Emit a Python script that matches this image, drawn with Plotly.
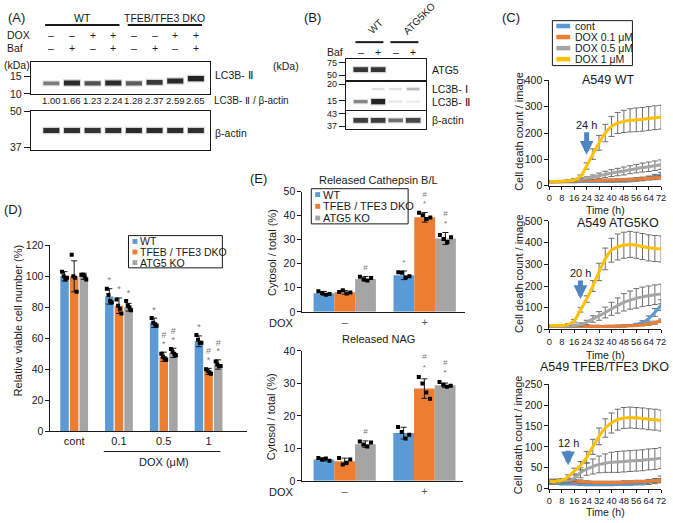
import plotly.graph_objects as go
import math

W, H = 673, 523
FONT = "Liberation Sans, Arial, Helvetica, sans-serif"
INK = "#1a1a1a"

def fx(x):
    return x / W

def fy(y):
    return 1 - y / H

# ====================== DATA ======================
# (A) western blot
A_group_names = ["WT", "TFEB/TFE3 DKO"]
A_lanes = [1, 2, 3, 4, 5, 6, 7, 8]
A_dox = ["–", "–", "+", "+", "–", "–", "+", "+"]
A_baf = ["–", "+", "–", "+", "–", "+", "–", "+"]
A_lc3ii_band = [0.55, 0.95, 0.75, 0.95, 0.70, 0.88, 0.95, 1.00]
A_lc3ii_kda = [12.8, 12.9, 12.8, 12.9, 12.8, 13.1, 13.5, 14.3]
A_actin_band = [0.92, 0.92, 0.90, 0.92, 0.95, 0.95, 0.93, 0.92]
A_actin_kda = [42.5, 42.5, 42.5, 42.5, 42.5, 42.5, 42.5, 42.5]
A_ratio = [1.00, 1.66, 1.23, 2.24, 1.28, 2.37, 2.59, 2.65]
A_lc3_markers = [15, 10]
A_actin_markers = [50, 37]

# (B) western blot
B_group_names = ["WT", "ATG5KO"]
B_lanes = [1, 2, 3, 4]
B_baf = ["–", "+", "–", "+"]
B_atg5_band = [0.90, 0.90, 0.0, 0.0]
B_atg5_kda = [60, 60, 60, 60]
B_lc3i_band = [0.0, 0.12, 0.12, 0.28]
B_lc3i_kda = [18.4, 18.4, 18.4, 18.4]
B_lc3ii_band = [0.50, 1.00, 0.10, 0.08]
B_lc3ii_kda = [14.8, 14.8, 14.8, 14.8]
B_actin_band = [0.85, 0.85, 0.60, 0.80]
B_actin_kda = [39.6, 39.6, 39.6, 39.6]
B_atg5_markers = [75, 50]
B_lc3_markers = [20, 15]
B_actin_markers = [43, 37]

# (C) cell death time course
C_series = ["cont", "DOX 0.1 μM", "DOX 0.5 μM", "DOX 1 μM"]
C_time = [0, 4, 8, 12, 16, 20, 24, 28, 32, 36, 40, 44, 48, 52, 56, 60, 64, 68, 72]
C_titles = ["A549 WT", "A549 ATG5KO", "A549 TFEB/TFE3 DKO"]
C_arrow_time = [24, 20, 12]
C_arrow_label = ["24 h", "20 h", "12 h"]

C_wt_cont = [15, 15, 15, 15, 15, 16, 16, 16, 17, 17, 17, 18, 18, 20, 22, 25, 30, 35, 42]
C_wt_d01 = [15, 15, 16, 17, 18, 19, 20, 20, 20, 21, 21, 22, 23, 24, 25, 27, 28, 30, 32]
C_wt_d05 = [15, 16, 17, 19, 22, 25, 28, 33, 38, 43, 48, 52, 56, 61, 65, 69, 72, 76, 80]
C_wt_d1 = [15, 16, 17, 18, 22, 35, 75, 120, 163, 200, 225, 238, 244, 248, 250, 252, 255, 258, 260]
C_wt_cont_sd = [3, 3, 3, 3, 3, 3, 3, 3, 3, 4, 4, 4, 4, 5, 5, 6, 7, 8, 9]
C_wt_d01_sd = [3, 3, 3, 3, 3, 4, 4, 4, 4, 4, 5, 5, 5, 5, 6, 6, 6, 7, 7]
C_wt_d05_sd = [3, 3, 3, 4, 4, 5, 6, 8, 10, 12, 13, 14, 15, 15, 16, 17, 18, 18, 18]
C_wt_d1_sd = [3, 3, 3, 3, 4, 6, 12, 20, 28, 33, 38, 40, 42, 44, 45, 45, 45, 45, 45]

C_ko_cont = [15, 15, 15, 15, 14, 14, 14, 14, 14, 14, 15, 15, 16, 18, 22, 32, 50, 78, 112]
C_ko_d01 = [15, 15, 15, 15, 14, 14, 14, 14, 14, 14, 15, 15, 16, 17, 18, 21, 25, 31, 40]
C_ko_d05 = [15, 15, 15, 16, 18, 22, 32, 48, 62, 78, 95, 110, 125, 135, 143, 150, 155, 160, 163]
C_ko_d1 = [18, 18, 18, 22, 40, 90, 140, 200, 265, 325, 365, 380, 388, 392, 388, 382, 376, 373, 371]
C_ko_cont_sd = [3, 3, 3, 3, 3, 3, 3, 3, 3, 3, 3, 4, 4, 5, 6, 8, 12, 18, 25]
C_ko_d01_sd = [3, 3, 3, 3, 3, 3, 3, 3, 3, 3, 3, 4, 4, 4, 5, 5, 6, 7, 8]
C_ko_d05_sd = [3, 3, 4, 5, 6, 8, 10, 15, 20, 25, 30, 35, 40, 42, 45, 45, 45, 45, 45]
C_ko_d1_sd = [3, 3, 3, 4, 6, 10, 15, 25, 40, 50, 55, 60, 60, 60, 60, 60, 60, 60, 60]

C_dko_cont = [13, 13, 12, 12, 12, 11, 10, 10, 10, 10, 10, 11, 11, 11, 12, 13, 15, 18, 22]
C_dko_d01 = [19, 19, 19, 18, 18, 17, 16, 15, 15, 15, 15, 15, 16, 16, 17, 17, 18, 19, 20]
C_dko_d05 = [15, 15, 17, 20, 25, 38, 47, 53, 58, 61, 63, 64, 65, 66, 67, 68, 70, 71, 73]
C_dko_d1 = [17, 18, 20, 28, 42, 55, 75, 100, 125, 145, 157, 165, 169, 170, 169, 168, 166, 165, 163]
C_dko_cont_sd = [3, 3, 3, 3, 3, 3, 3, 3, 3, 3, 3, 3, 3, 3, 3, 4, 5, 6, 8]
C_dko_d01_sd = [4, 4, 4, 4, 4, 4, 3, 3, 3, 3, 3, 3, 3, 3, 3, 3, 4, 4, 4]
C_dko_d05_sd = [4, 4, 4, 5, 8, 12, 15, 18, 20, 22, 24, 25, 25, 25, 25, 25, 25, 25, 25]
C_dko_d1_sd = [4, 4, 4, 5, 7, 10, 14, 18, 20, 22, 24, 25, 25, 25, 25, 25, 25, 25, 25]

# (D) relative viable cell number
D_categories = ["cont", "0.1", "0.5", "1"]
D_groups = ["WT", "TFEB / TFE3 DKO", "ATG5 KO"]
D_wt = [100, 87, 70, 58]
D_dko = [100, 81, 48, 38.5]
D_atg5 = [100, 80, 50.5, 43]
D_wt_sd = [3, 5, 3, 3.5]
D_dko_sd = [10, 5, 3, 2]
D_atg5_sd = [2, 2.5, 3, 3]
D_wt_dots = [[103, 100, 98, 99], [92, 88, 84, 83], [73, 70, 69, 68], [62, 59, 57, 57]]
D_dko_dots = [[114, 100, 99, 90], [85, 81, 79, 76], [50, 48, 47, 46], [40, 39, 38, 37]]
D_atg5_dots = [[101, 101, 100, 98], [84, 81, 80, 78], [53, 51, 50, 49], [45, 43, 42, 42]]
D_wt_sig = ["", "*", "*", "*"]
D_dko_sig = ["", "*", "*#", "*#"]
D_atg5_sig = ["", "*", "*#", "*#"]

# (E) released lysosomal enzymes
E_dox = ["–", "+"]
E_cat_wt = [7.7, 15.2]
E_cat_dko = [8.1, 39.3]
E_cat_atg5 = [13.7, 30.5]
E_cat_wt_sd = [0.8, 1.8]
E_cat_dko_sd = [0.8, 2.0]
E_cat_atg5_sd = [1.0, 2.5]
E_cat_wt_dots = [[8.6, 7.8, 7.1, 7.4], [16.5, 16.3, 14.3, 14.8]]
E_cat_dko_dots = [[8.2, 9.0, 7.6, 8.0], [41.2, 40.2, 38.6, 39.2]]
E_cat_atg5_dots = [[14.6, 13.6, 13.0, 14.1], [32.0, 30.3, 29.0, 31.0]]
E_cat_wt_sig = ["", "*"]
E_cat_dko_sig = ["", "*#"]
E_cat_atg5_sig = ["#", "*#"]

E_nag_wt = [6.6, 14.7]
E_nag_dko = [6.0, 28.4]
E_nag_atg5 = [11.3, 29.4]
E_nag_wt_sd = [0.5, 1.8]
E_nag_dko_sd = [1.0, 3.0]
E_nag_atg5_sd = [1.0, 0.7]
E_nag_wt_dots = [[7.0, 6.6, 6.9, 6.2], [16.6, 15.0, 13.0, 14.2]]
E_nag_dko_dots = [[7.0, 5.0, 5.6, 6.6], [32.0, 30.0, 27.2, 25.3]]
E_nag_atg5_dots = [[12.1, 11.2, 10.6, 11.8], [30.4, 29.6, 29.0, 29.3]]
E_nag_wt_sig = ["", ""]
E_nag_dko_sig = ["", "*#"]
E_nag_atg5_sig = ["#", "*#"]

COLORS = ["#5B9BD5", "#ED7D31", "#A5A5A5", "#FFC000"]

# ====================== FIGURE ======================
fig = go.Figure()
layout = dict(
    width=W, height=H, margin=dict(l=0, r=0, t=0, b=0),
    paper_bgcolor="white", plot_bgcolor="rgba(0,0,0,0)",
    font=dict(family=FONT, size=11, color=INK),
    showlegend=False, hovermode=False,
)
annotations = []
shapes = []


def txt(x, y, s, size=11, xanchor="center", yanchor="middle", color=INK,
        angle=0, xref="paper", yref="paper"):
    annotations.append(dict(
        x=fx(x) if xref == "paper" else x,
        y=fy(y) if yref == "paper" else y,
        xref=xref, yref=yref, text=s, showarrow=False,
        xanchor=xanchor, yanchor=yanchor, textangle=angle,
        font=dict(family=FONT, size=size, color=color)))


def set_axes(n, xl, xr, yt, yb, xkw, ykw):
    xa = "xaxis" if n == 1 else f"xaxis{n}"
    ya = "yaxis" if n == 1 else f"yaxis{n}"
    xid = "x" if n == 1 else f"x{n}"
    yid = "y" if n == 1 else f"y{n}"
    base = dict(showgrid=False, zeroline=False, fixedrange=True,
                ticklabeloverflow="allow")
    layout[xa] = dict(base, domain=[fx(xl), fx(xr)], anchor=yid, **xkw)
    layout[ya] = dict(base, domain=[fy(yb), fy(yt)], anchor=xid, **ykw)
    return xid, yid


def blot_axes(n, xl, xr, yt, yb, xrange, kda_lo, kda_hi, markers, fsize=10.5):
    return set_axes(
        n, xl, xr, yt, yb,
        dict(range=xrange, showticklabels=False, ticks="", showline=True,
             mirror=True, linecolor=INK, linewidth=1),
        dict(type="log", range=[math.log10(kda_lo), math.log10(kda_hi)],
             tickvals=markers, ticktext=[str(m) for m in markers],
             ticks="outside", ticklen=6, tickcolor=INK, showline=True,
             mirror=True, linecolor=INK, linewidth=1,
             tickfont=dict(size=fsize, color=INK)))


def add_bands(xid, yid, lanes, kdas, intens, half):
    for lane, k, a in zip(lanes, kdas, intens):
        if a <= 0:
            continue
        w = 1.5 + 3.8 * a
        fig.add_trace(go.Scatter(
            x=[lane - half, lane + half], y=[k, k], mode="lines",
            xaxis=xid, yaxis=yid,
            line=dict(color=f"rgba(0,0,0,{0.18 * a:.3f})", width=w + 2.5)))
        fig.add_trace(go.Scatter(
            x=[lane - half * 0.9, lane + half * 0.9], y=[k, k], mode="lines",
            xaxis=xid, yaxis=yid,
            line=dict(color=f"rgba(10,10,10,{0.88 * a:.3f})", width=w)))


# ---------- (A) ----------
txt(3, 12, "(A)", size=13, xanchor="left")
xa1, ya1 = blot_axes(1, 28, 209, 57, 90, [0, 8.66], 10, 21.2, A_lc3_markers)
xa2, ya2 = blot_axes(2, 28, 209, 107, 147, [0, 8.66], 36.2, 50.3, A_actin_markers)
add_bands(xa1, ya1, A_lanes, A_lc3ii_kda, A_lc3ii_band, 0.43)
add_bands(xa2, ya2, A_lanes, A_actin_kda, A_actin_band, 0.43)
txt(-1, 60, "(kDa)", size=10.5, xanchor="left")
for gi, name in enumerate(A_group_names):
    lanes = A_lanes[gi * 4:(gi + 1) * 4]
    txt(sum(lanes) / 4, 12, name, size=10.5, xref=xa1)
    shapes.append(dict(type="line", xref=xa1, yref="paper",
                       x0=lanes[0] - 0.3, x1=lanes[-1] + 0.3,
                       y0=fy(19.5), y1=fy(19.5), line=dict(color=INK, width=2)))
txt(2, 30, "DOX", size=10.5, xanchor="left")
txt(2, 43, "Baf", size=10.5, xanchor="left")
for lane, d, b, r in zip(A_lanes, A_dox, A_baf, A_ratio):
    txt(lane, 30, d, size=10.5, xref=xa1)
    txt(lane, 43, b, size=10.5, xref=xa1)
    txt(lane, 97, f"{r:.2f}", size=9.6, xref=xa1)
txt(213, 71, "LC3B- Ⅱ", size=10.5, xanchor="left")
txt(212, 97, "LC3B- Ⅱ / β-actin", size=10, xanchor="left")
txt(213, 130, "β-actin", size=10.5, xanchor="left")

# ---------- (B) ----------
txt(313, 12, "(B)", size=13)
b_range = [0.153, 4.73]
xa3, ya3 = blot_axes(3, 347, 428, 54, 76, b_range, 42.7, 85, B_atg5_markers, 9)
xa4, ya4 = blot_axes(4, 347, 428, 78, 106, b_range, 12.9, 20.7, B_lc3_markers, 9)
xa5, ya5 = blot_axes(5, 347, 428, 107, 126, b_range, 35.7, 44.5, B_actin_markers, 9)
add_bands(xa3, ya3, B_lanes, B_atg5_kda, B_atg5_band, 0.46)
add_bands(xa4, ya4, B_lanes, B_lc3i_kda, B_lc3i_band, 0.40)
add_bands(xa4, ya4, B_lanes, B_lc3ii_kda, B_lc3ii_band, 0.44)
add_bands(xa5, ya5, B_lanes, B_actin_kda, B_actin_band, 0.46)
txt(302, 61, "(kDa)", size=10.5, xanchor="right")
txt(346, 47, "Baf", size=10.5, xanchor="right")
for gi, name in enumerate(B_group_names):
    lanes = B_lanes[gi * 2:(gi + 1) * 2]
    cx = sum(lanes) / 2
    txt(cx - 0.35, 34, name, size=10, xref=xa3, angle=-45,
        xanchor="left", yanchor="bottom")
    shapes.append(dict(type="line", xref=xa3, yref="paper",
                       x0=lanes[0] - 0.3, x1=lanes[-1] + 0.3,
                       y0=fy(37), y1=fy(37), line=dict(color=INK, width=2)))
for lane, b in zip(B_lanes, B_baf):
    txt(lane, 47, b, size=10.5, xref=xa3)
txt(432, 65, "ATG5", size=10.5, xanchor="left")
txt(432, 85, "LC3B- Ⅰ", size=10.5, xanchor="left")
txt(432, 98, "LC3B- Ⅱ", size=10.5, xanchor="left")
txt(432, 117, "β-actin", size=10.5, xanchor="left")

# ---------- (C) ----------
txt(514, 12, "(C)", size=13)
C_data = [
    ([C_wt_cont, C_wt_d01, C_wt_d05, C_wt_d1],
     [C_wt_cont_sd, C_wt_d01_sd, C_wt_d05_sd, C_wt_d1_sd]),
    ([C_ko_cont, C_ko_d01, C_ko_d05, C_ko_d1],
     [C_ko_cont_sd, C_ko_d01_sd, C_ko_d05_sd, C_ko_d1_sd]),
    ([C_dko_cont, C_dko_d01, C_dko_d05, C_dko_d1],
     [C_dko_cont_sd, C_dko_d01_sd, C_dko_d05_sd, C_dko_d1_sd]),
]
C_boxes = [(76, 184, 400, 100), (220, 331, 500, 100), (387, 494, 250, 50)]
C_title_pos = [(612, 76), (622, 222), (609, 369)]
C_xlab_y = [209, 357, 518]
C_arrow_head = [118, 140, 56]
C_arrow_tail = [-30, -26, -22]
for ci, ((series, sds), (yt, yb, ymax, dt)) in enumerate(zip(C_data, C_boxes)):
    n = 6 + ci
    xid, yid = set_axes(
        n, 553, 666, yt, yb,
        dict(range=[0, 72], tickvals=[0, 8, 16, 24, 32, 40, 48, 56, 64, 72],
             ticks="outside", ticklen=3, tickcolor=INK, showline=True,
             linecolor=INK, linewidth=1, tickangle=0,
             tickfont=dict(size=9.3, color=INK)),
        dict(range=[0, ymax], dtick=dt, ticks="outside", ticklen=4,
             tickcolor=INK, showline=True, linecolor=INK, linewidth=1,
             tickfont=dict(size=10.5, color=INK)))
    for si, (vals, sd) in enumerate(zip(series, sds)):
        fig.add_trace(go.Scatter(
            x=C_time, y=vals, mode="lines", xaxis=xid, yaxis=yid,
            line=dict(color=COLORS[si], width=3, shape="spline", smoothing=0.8),
            error_y=dict(type="data", array=sd, color="#6e6e6e",
                         thickness=1, width=3)))
    annotations.append(dict(
        x=C_arrow_time[ci], y=C_arrow_head[ci], xref=xid, yref=yid,
        text=C_arrow_label[ci], showarrow=True, ax=0, ay=C_arrow_tail[ci],
        arrowhead=2, arrowsize=0.55, arrowwidth=5, arrowcolor="#4F86C1",
        font=dict(family=FONT, size=11, color=INK)))
    tx, ty = C_title_pos[ci]
    txt(tx, ty, C_titles[ci], size=12.5)
    txt(522, (yt + yb) / 2 - 2, "Cell death count / image", size=11, angle=-90)
    txt(610, C_xlab_y[ci], "Time (h)", size=10.5)

# C legend
shapes.append(dict(type="rect", xref="paper", yref="paper",
                   x0=fx(556), x1=fx(637), y0=fy(61), y1=fy(15),
                   line=dict(color=INK, width=1), fillcolor="white"))
for si, name in enumerate(C_series):
    yy = 20.5 + si * 11.3
    shapes.append(dict(type="line", xref="paper", yref="paper",
                       x0=fx(560), x1=fx(574), y0=fy(yy), y1=fy(yy),
                       line=dict(color=COLORS[si], width=4.5)))
    txt(577, yy, name, size=10.5, xanchor="left")


# ---------- bar chart helper ----------
def bar_panel(xid, yid, means, sds, dots, sigs, offs, width, spread, pad, pad2,
              star_size):
    for gi in range(3):
        n = len(means[gi])
        xs = [i + offs[gi] for i in range(n)]
        fig.add_trace(go.Bar(
            x=xs, y=means[gi], width=[width] * n, xaxis=xid, yaxis=yid,
            marker=dict(color=COLORS[gi], line=dict(width=0)),
            error_y=dict(type="data", array=sds[gi], color=INK,
                         thickness=1, width=3)))
        jit = [-1.0, -0.35, 0.35, 1.0]
        dx, dy = [], []
        for i in range(n):
            for j, v in enumerate(dots[gi][i]):
                dx.append(xs[i] + jit[j] * spread)
                dy.append(v)
        fig.add_trace(go.Scatter(
            x=dx, y=dy, mode="markers", xaxis=xid, yaxis=yid,
            marker=dict(color="black", size=4, symbol="square")))
        sx, sy, st = [], [], []
        for i in range(n):
            top = max(means[gi][i] + sds[gi][i], max(dots[gi][i]))
            level = top + pad
            for ch in sigs[gi][i]:
                sx.append(xs[i])
                sy.append(level)
                st.append(ch)
                level += pad2
        if sx:
            fig.add_trace(go.Scatter(
                x=sx, y=sy, mode="text", text=st, xaxis=xid, yaxis=yid,
                textposition="middle center",
                textfont=dict(family=FONT, size=star_size, color="#7a7a7a")))


def swatch_legend(x0, x1, y0, y1, names, first_y, step, size):
    shapes.append(dict(type="rect", xref="paper", yref="paper",
                       x0=fx(x0), x1=fx(x1), y0=fy(y1), y1=fy(y0),
                       line=dict(color=INK, width=1), fillcolor="white"))
    for gi, name in enumerate(names):
        yy = first_y + gi * step
        shapes.append(dict(type="rect", xref="paper", yref="paper",
                           x0=fx(x0 + 4), x1=fx(x0 + 9),
                           y0=fy(yy + 2.5), y1=fy(yy - 2.5),
                           line=dict(width=0), fillcolor=COLORS[gi]))
        txt(x0 + 10, yy, name, size=size, xanchor="left")


# ---------- (D) ----------
txt(10, 208, "(D)", size=13)
xd, yd = set_axes(
    9, 48, 247, 245, 435,
    dict(range=[-0.53, 3.86], tickvals=[0, 1, 2, 3], ticktext=D_categories,
         ticks="", showline=True, linecolor=INK, linewidth=1,
         tickfont=dict(size=11, color=INK)),
    dict(range=[0, 120], dtick=20, ticks="outside", ticklen=4, tickcolor=INK,
         showline=True, linecolor=INK, linewidth=1,
         tickfont=dict(size=10.5, color=INK)))
bar_panel(xd, yd, [D_wt, D_dko, D_atg5], [D_wt_sd, D_dko_sd, D_atg5_sd],
          [D_wt_dots, D_dko_dots, D_atg5_dots], [D_wt_sig, D_dko_sig, D_atg5_sig],
          [-0.215, 0.0, 0.215], 0.19, 0.055, 5.0, 5.5, 9)
shapes.append(dict(type="line", xref="paper", yref="paper",
                   x0=fx(102), x1=fx(220), y0=fy(456), y1=fy(456),
                   line=dict(color=INK, width=1)))
txt(163, 467, "DOX (μM)", size=11)
txt(15, 322, "Relative viable cell number (%)", size=11, angle=-90)
swatch_legend(127, 222, 235, 268, D_groups, 241, 10.8, 10.5)

# ---------- (E) ----------
txt(259, 177, "(E)", size=13)
txt(380, 178, "Released Cathepsin B/L", size=11)
txt(380, 341, "Released NAG", size=11)
xe1, ye1 = set_axes(
    10, 303, 468, 190, 313,
    dict(range=[-0.53, 1.51], tickvals=[0, 1], ticktext=E_dox, ticks="",
         showline=True, linecolor=INK, linewidth=1,
         tickfont=dict(size=11, color="#555")),
    dict(range=[0, 50], dtick=10, ticks="outside", ticklen=4, tickcolor=INK,
         showline=True, linecolor=INK, linewidth=1,
         tickfont=dict(size=10.5, color=INK)))
bar_panel(xe1, ye1, [E_cat_wt, E_cat_dko, E_cat_atg5],
          [E_cat_wt_sd, E_cat_dko_sd, E_cat_atg5_sd],
          [E_cat_wt_dots, E_cat_dko_dots, E_cat_atg5_dots],
          [E_cat_wt_sig, E_cat_dko_sig, E_cat_atg5_sig],
          [-0.26, 0.0, 0.26], 0.26, 0.07, 3.5, 4.0, 8)
xe2, ye2 = set_axes(
    11, 303, 466, 353, 486,
    dict(range=[-0.53, 1.49], tickvals=[0, 1], ticktext=E_dox, ticks="",
         showline=True, linecolor=INK, linewidth=1,
         tickfont=dict(size=11, color="#555")),
    dict(range=[0, 40], dtick=10, ticks="outside", ticklen=4, tickcolor=INK,
         showline=True, linecolor=INK, linewidth=1,
         tickfont=dict(size=10.5, color=INK)))
bar_panel(xe2, ye2, [E_nag_wt, E_nag_dko, E_nag_atg5],
          [E_nag_wt_sd, E_nag_dko_sd, E_nag_atg5_sd],
          [E_nag_wt_dots, E_nag_dko_dots, E_nag_atg5_dots],
          [E_nag_wt_sig, E_nag_dko_sig, E_nag_atg5_sig],
          [-0.26, 0.0, 0.26], 0.26, 0.07, 2.8, 3.2, 8)
txt(282, 324, "DOX", size=11)
txt(282, 497, "DOX", size=11)
txt(272, 252, "Cytosol / total (%)", size=11, angle=-90)
txt(272, 420, "Cytosol / total (%)", size=11, angle=-90)
swatch_legend(312, 410, 187, 223, D_groups, 193, 12, 11)

layout["annotations"] = annotations
layout["shapes"] = shapes
layout["barmode"] = "overlay"
fig.update_layout(**layout)
fig.write_html("out.html",
               config={"displayModeBar": False, "staticPlot": True},
               post_script="document.body.style.margin='0px';"
                           "document.body.style.overflow='hidden';")
